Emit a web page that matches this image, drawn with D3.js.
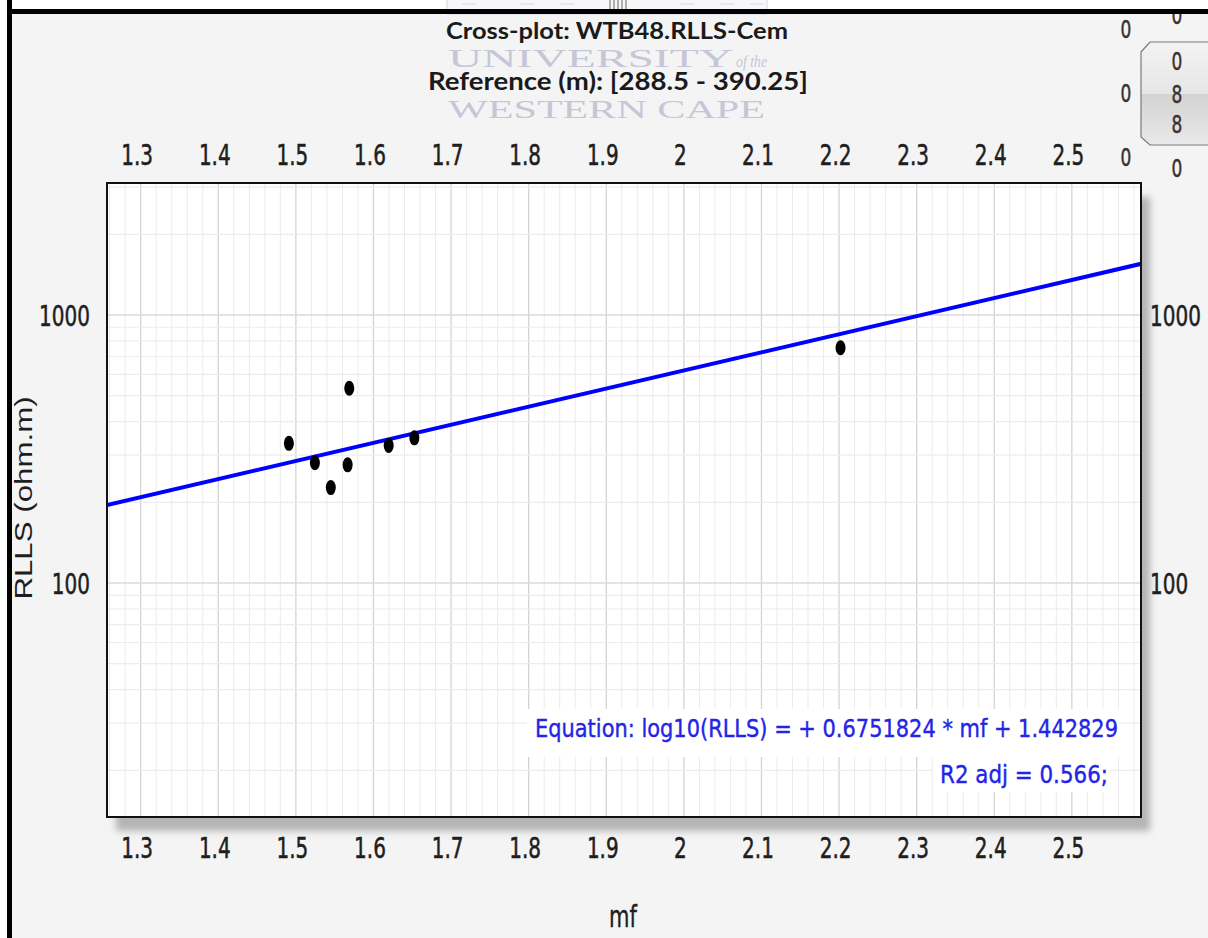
<!DOCTYPE html>
<html>
<head>
<meta charset="utf-8">
<script src="https://cdn.jsdelivr.net/npm/d3@7"></script>
<style>
  html, body { margin: 0; padding: 0; background: #ffffff; }
  svg { display: block; }
</style>
</head>
<body>
<svg id="chart" width="1208" height="938"></svg>
<script>
// Cross-plot samples: cementation exponent (mf) against deep resistivity (RLLS)
const mfValues   = [1.491, 1.5245, 1.545, 1.5667, 1.5688, 1.6196, 1.6527, 2.2019];
const rllsValues = [332, 281, 227, 276, 533, 326, 348, 755];

// Regression: log10(RLLS) = slope * mf + intercept
const fitSlope = 0.6751824;
const fitIntercept = 1.442829;
const fitR2Adj = "0.566";

// Axis ranges and tick labels
const xDomain = [1.2566, 2.5891];
const yDomain = [13.4, 3108];
const xTickValues = [1.3, 1.4, 1.5, 1.6, 1.7, 1.8, 1.9, 2.0, 2.1, 2.2, 2.3, 2.4, 2.5];
const xTickLabels = ["1.3", "1.4", "1.5", "1.6", "1.7", "1.8", "1.9", "2", "2.1", "2.2", "2.3", "2.4", "2.5"];
const yTickValues = [100, 1000];
const yTickLabels = ["100", "1000"];

// Header texts
const titleText = "Cross-plot: WTB48.RLLS-Cem";
const subtitleText = "Reference (m): [288.5 - 390.25]";
const xTitle = "mf";
const yTitle = "RLLS (ohm.m)";

const svg = d3.select("#chart");
const W = 1208, H = 938;
const plot = { left: 107, top: 183, right: 1141, bottom: 817 };
const TICK_FONT = "DejaVu Sans";
const STRETCH = 1.42;

const x = d3.scaleLinear().domain(xDomain).range([plot.left, plot.right]);
const y = d3.scaleLog().domain(yDomain).range([plot.bottom, plot.top]);

// ---------- defs ----------
const defs = svg.append("defs");
defs.append("filter").attr("id", "soft").attr("x", "-5%").attr("y", "-5%").attr("width", "110%").attr("height", "110%")
  .append("feGaussianBlur").attr("stdDeviation", 3.5);
defs.append("clipPath").attr("id", "plotClip")
  .append("rect")
  .attr("x", plot.left).attr("y", plot.top)
  .attr("width", plot.right - plot.left).attr("height", plot.bottom - plot.top);
const btnGrad = defs.append("linearGradient").attr("id", "btnGrad")
  .attr("x1", 0).attr("y1", 0).attr("x2", 0).attr("y2", 1);
[["0%", "#f3f3f3"], ["50%", "#e6e6e6"], ["51%", "#d3d3d3"], ["100%", "#e9e9e9"]]
  .forEach(([o, c]) => btnGrad.append("stop").attr("offset", o).attr("stop-color", c));

// ---------- window frame ----------
svg.append("rect").attr("width", W).attr("height", H).attr("fill", "#ffffff");
svg.append("rect").attr("x", 12).attr("y", 14).attr("width", W - 12).attr("height", H - 14).attr("fill", "#f4f4f4");

// logo strip peeking above the frame
const logo = svg.append("g");
logo.append("rect").attr("x", 447).attr("y", -2).attr("width", 320).attr("height", 16)
  .attr("fill", "#f7f7f9").attr("stroke", "#d4d4dc");
[462, 520, 560, 680, 720, 750].forEach(px =>
  logo.append("line").attr("x1", px).attr("x2", px + 14).attr("y1", 4).attr("y2", 4).attr("stroke", "#d8d8e0"));
[610, 614, 618, 622, 626].forEach(px =>
  logo.append("line").attr("x1", px).attr("x2", px).attr("y1", 0).attr("y2", 9).attr("stroke", "#666").attr("stroke-width", 1));

svg.append("rect").attr("x", 7).attr("y", 9).attr("width", W - 7).attr("height", 5).attr("fill", "#000");
svg.append("rect").attr("x", 7).attr("y", 0).attr("width", 5).attr("height", H).attr("fill", "#000");

// watermark
const wm = svg.append("g").attr("fill", "#c6c6d6").attr("font-family", "Liberation Serif");
wm.append("text").attr("x", 448).attr("y", 67).attr("font-size", 25)
  .attr("textLength", 285).attr("lengthAdjust", "spacingAndGlyphs").text("UNIVERSITY");
wm.append("text").attr("x", 736).attr("y", 67).attr("font-size", 16).attr("font-style", "italic")
  .attr("textLength", 31).attr("lengthAdjust", "spacingAndGlyphs").text("of the");
wm.append("text").attr("x", 448).attr("y", 118).attr("font-size", 25)
  .attr("textLength", 317).attr("lengthAdjust", "spacingAndGlyphs").text("WESTERN CAPE");

// titles
svg.append("text").attr("x", 617).attr("y", 39).attr("text-anchor", "middle")
  .attr("font-family", "Lato").attr("font-weight", "bold").attr("font-size", 23).attr("fill", "#1a1a1a")
  .attr("textLength", 342).attr("lengthAdjust", "spacingAndGlyphs").text(titleText);
svg.append("text").attr("x", 618).attr("y", 90).attr("text-anchor", "middle")
  .attr("font-family", "Lato").attr("font-weight", "bold").attr("font-size", 24).attr("fill", "#1a1a1a")
  .attr("textLength", 380).attr("lengthAdjust", "spacingAndGlyphs").text(subtitleText);

// ---------- side widgets ----------
function stretchedText(parent, tx, ty, str, size, anchor, fill) {
  return parent.append("text")
    .attr("transform", `translate(${tx},${ty}) scale(1,${STRETCH})`)
    .attr("font-family", TICK_FONT).attr("font-size", size)
    .attr("text-anchor", anchor).attr("fill", fill)
    .attr("stroke", fill).attr("stroke-width", 0.35).text(str);
}
const side = svg.append("g");
[38, 102, 166].forEach(b => stretchedText(side, 1126, b, "0", 17, "middle", "#3a3330"));
side.append("path")
  .attr("d", "M1141,52 L1150,42 L1212,42 L1212,145 L1150,145 L1141,137 Z")
  .attr("fill", "url(#btnGrad)").attr("stroke", "#7a7a7a").attr("stroke-width", 1.2);
[[70, "0"], [103, "8"], [133, "8"]].forEach(([b, s]) => stretchedText(side, 1177, b, s, 17, "middle", "#3a3330"));
stretchedText(side, 1177, 177, "0", 17, "middle", "#3a3330");
defs.append("clipPath").attr("id", "topClip").append("rect").attr("x", 1160).attr("y", 14).attr("width", 40).attr("height", 20);
stretchedText(side.append("g").attr("clip-path", "url(#topClip)"), 1177, 24, "0", 17, "middle", "#3a3330");

// ---------- plot area ----------
svg.append("rect")
  .attr("x", plot.left + 9).attr("y", plot.top + 14)
  .attr("width", plot.right - plot.left).attr("height", plot.bottom - plot.top)
  .attr("fill", "#b4b4b4").attr("filter", "url(#soft)");
svg.append("rect")
  .attr("x", plot.left).attr("y", plot.top)
  .attr("width", plot.right - plot.left).attr("height", plot.bottom - plot.top)
  .attr("fill", "#ffffff");

const grid = svg.append("g").attr("clip-path", "url(#plotClip)");
const minorX = d3.range(63, 130).map(k => k / 50);
const isMajorX = v => Math.abs(v * 10 - Math.round(v * 10)) < 1e-6;
grid.selectAll("line.vx").data(minorX).join("line")
  .attr("x1", d => x(d)).attr("x2", d => x(d))
  .attr("y1", plot.top).attr("y2", plot.bottom)
  .attr("stroke", d => isMajorX(d) ? "#d3d3d3" : "#ebebeb")
  .attr("stroke-width", d => isMajorX(d) ? 1.3 : 1);
const yGrid = y.ticks();
const isDecade = v => Math.abs(Math.log10(v) - Math.round(Math.log10(v))) < 1e-9;
grid.selectAll("line.hy").data(yGrid).join("line")
  .attr("x1", plot.left).attr("x2", plot.right)
  .attr("y1", d => y(d)).attr("y2", d => y(d))
  .attr("stroke", d => isDecade(d) ? "#dadada" : "#ececec")
  .attr("stroke-width", d => isDecade(d) ? 1.4 : 1.2);

// regression line
const fitLine = d3.line()
  .x(d => x(d))
  .y(d => y(Math.pow(10, fitSlope * d + fitIntercept)));
svg.append("path").attr("clip-path", "url(#plotClip)")
  .datum(xDomain)
  .attr("d", fitLine)
  .attr("fill", "none").attr("stroke", "#0000ff").attr("stroke-width", 4);

// samples
svg.append("g").attr("clip-path", "url(#plotClip)")
  .selectAll("ellipse").data(mfValues).join("ellipse")
  .attr("cx", d => x(d)).attr("cy", (d, i) => y(rllsValues[i]))
  .attr("rx", 5).attr("ry", 7.5).attr("fill", "#000");

// equation box
const eqG = svg.append("g");
eqG.append("rect").attr("x", 527).attr("y", 709).attr("width", 592).attr("height", 48).attr("fill", "#ffffff");
eqG.append("rect").attr("x", 933).attr("y", 757).attr("width", 177).attr("height", 35).attr("fill", "#ffffff");
eqG.append("text")
  .attr("transform", `translate(1118,737) scale(1,${STRETCH})`)
  .attr("text-anchor", "end").attr("font-family", TICK_FONT).attr("font-size", 18).attr("fill", "#2424e8")
  .attr("stroke", "#2424e8").attr("stroke-width", 0.3)
  .attr("textLength", 583).attr("lengthAdjust", "spacingAndGlyphs")
  .text(`Equation: log10(RLLS) = + ${fitSlope} * mf + ${fitIntercept}`);
eqG.append("text")
  .attr("transform", `translate(1108,783) scale(1,${STRETCH})`)
  .attr("text-anchor", "end").attr("font-family", TICK_FONT).attr("font-size", 18).attr("fill", "#2424e8")
  .attr("stroke", "#2424e8").attr("stroke-width", 0.3)
  .attr("textLength", 168).attr("lengthAdjust", "spacingAndGlyphs")
  .text(`R2 adj = ${fitR2Adj};`);

// plot border
svg.append("rect")
  .attr("x", plot.left).attr("y", plot.top)
  .attr("width", plot.right - plot.left).attr("height", plot.bottom - plot.top)
  .attr("fill", "none").attr("stroke", "#111").attr("stroke-width", 2);

// ---------- axes ----------
function styleAxis(g, tx, ty, anchor) {
  g.attr("font-family", TICK_FONT).attr("font-size", 20);
  g.select(".domain").remove();
  g.selectAll(".tick line").remove();
  g.selectAll(".tick text")
    .attr("x", null).attr("y", null).attr("dy", null)
    .attr("fill", "#1e1e1e")
    .attr("stroke", "#1e1e1e").attr("stroke-width", 0.4)
    .attr("text-anchor", anchor)
    .attr("transform", `translate(${tx},${ty}) scale(1,${STRETCH})`);
}
const xFmt = (d, i) => xTickLabels[i];
const yFmt = (d, i) => yTickLabels[i];

svg.append("g").call(d3.axisTop(x).tickValues(xTickValues).tickFormat(xFmt))
  .call(g => styleAxis(g, -4, 165, "middle"));
svg.append("g").call(d3.axisBottom(x).tickValues(xTickValues).tickFormat(xFmt))
  .call(g => styleAxis(g, -4, 858, "middle"));
svg.append("g").call(d3.axisLeft(y).tickValues(yTickValues).tickFormat(yFmt))
  .call(g => styleAxis(g, 90, 10, "end"));
svg.append("g").call(d3.axisRight(y).tickValues(yTickValues).tickFormat(yFmt))
  .call(g => styleAxis(g, 1150, 10, "start"));

// axis titles
svg.append("text")
  .attr("transform", `translate(623,927) scale(1,${STRETCH})`)
  .attr("text-anchor", "middle").attr("font-family", TICK_FONT).attr("font-size", 21)
  .attr("fill", "#1e1e1e").attr("stroke", "#1e1e1e").attr("stroke-width", 0.3).text(xTitle);
svg.append("text")
  .attr("transform", "translate(32,498) scale(1,1.36) rotate(-90)")
  .attr("text-anchor", "middle").attr("font-family", "Liberation Sans").attr("font-size", 23)
  .attr("fill", "#1e1e1e").text(yTitle);
</script>
</body>
</html>
